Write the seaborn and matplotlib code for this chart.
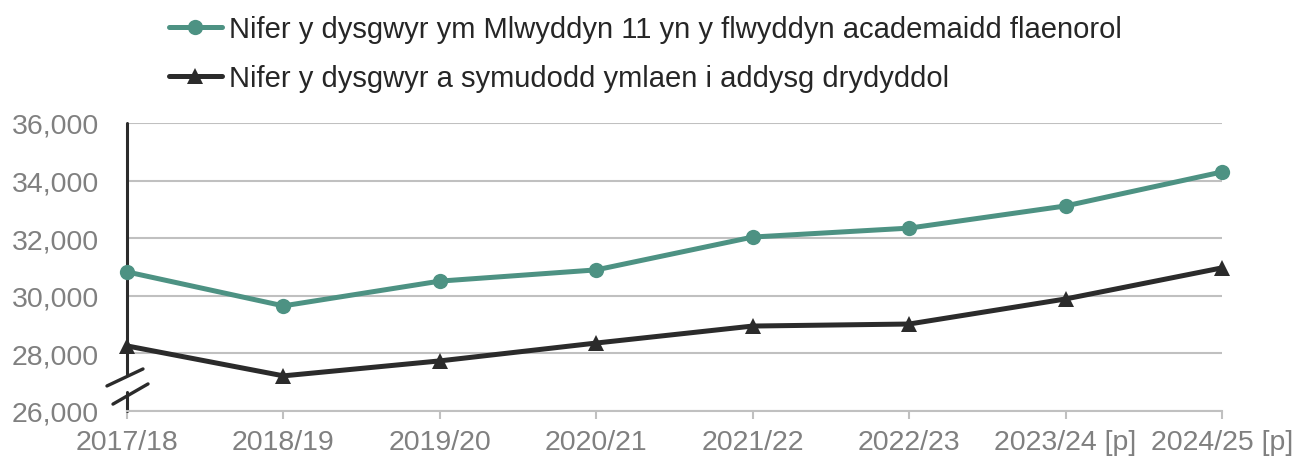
import matplotlib
matplotlib.use("Agg")
import matplotlib.pyplot as plt
import matplotlib.ticker as mticker
from matplotlib.lines import Line2D
import pandas as pd
import seaborn as sns

# chart data
years = ["2017/18", "2018/19", "2019/20", "2020/21", "2021/22", "2022/23",
         "2023/24 [p]", "2024/25 [p]"]
year11 = [30830, 29650, 30510, 30900, 32040, 32350, 33120, 34300]
progressed = [28260, 27220, 27740, 28360, 28950, 29020, 29890, 30970]
label_year11 = "Nifer y dysgwyr ym Mlwyddyn 11 yn y flwyddyn academaidd flaenorol"
label_progressed = "Nifer y dysgwyr a symudodd ymlaen i addysg drydyddol"
y_ticks = [26000, 28000, 30000, 32000, 34000, 36000]

GREEN = "#4D9283"
DARK = "#2B2B2B"
GREY_TXT = "#808080"
GREY_LINE = "#C0C0C0"

df = pd.DataFrame({
    "year": years * 2,
    "value": year11 + progressed,
    "series": [label_year11] * len(years) + [label_progressed] * len(years),
})

sns.set_theme(style="white")
plt.rcParams["font.family"] = ["Liberation Sans", "DejaVu Sans"]

fig = plt.figure(figsize=(12.98, 4.64), dpi=100)
ax = fig.add_axes([127 / 1298, 52 / 464, 1095 / 1298, 288 / 464])

sns.lineplot(data=df, x="year", y="value", hue="series", style="series",
             hue_order=[label_year11, label_progressed],
             palette=[GREEN, DARK], markers=["o", "^"], dashes=False,
             sort=False, linewidth=3.6, markersize=11, markeredgewidth=0,
             legend=False, ax=ax, zorder=3, clip_on=False)

ax.set_xlim(0, len(years) - 1)
ax.set_ylim(y_ticks[0], y_ticks[-1])
ax.set_yticks(y_ticks)
ax.yaxis.set_major_formatter(mticker.FuncFormatter(lambda v, p: f"{int(v):,}"))
ax.set_xlabel("")
ax.set_ylabel("")
ax.grid(axis="y", color=GREY_LINE, linewidth=1.5)
ax.grid(axis="x", visible=False)

for s in ["top", "right", "left"]:
    ax.spines[s].set_visible(False)
ax.spines["bottom"].set_color(GREY_LINE)
ax.spines["bottom"].set_linewidth(1.5)

ax.tick_params(axis="x", colors=GREY_TXT, labelsize=20.5, length=6,
               width=1.5, color=GREY_LINE, pad=7, bottom=True)
ax.tick_params(axis="y", colors=GREY_TXT, labelsize=20.5, length=0, pad=20)

# broken y axis: two spine pieces plus the slanted break marks
tr = ax.transAxes
ax.add_line(Line2D([0, 0], [1, 0.128], transform=tr, color=DARK, lw=2.2, clip_on=False))
ax.add_line(Line2D([0, 0], [0.066, 0], transform=tr, color=DARK, lw=2.2, clip_on=False))
ax.add_line(Line2D([-0.0183, 0.0146], [0.087, 0.146], transform=tr, color=DARK, lw=2.4, clip_on=False))
ax.add_line(Line2D([-0.0128, 0.0192], [0.024, 0.094], transform=tr, color=DARK, lw=2.4, clip_on=False))

handles = [
    Line2D([], [], color=GREEN, marker="o", lw=3.6, markersize=11, markeredgewidth=0),
    Line2D([], [], color=DARK, marker="^", lw=3.6, markersize=11, markeredgewidth=0),
]
fig.legend(handles, [label_year11, label_progressed], loc="upper left",
           bbox_to_anchor=(153 / 1298, 1.0), frameon=False, fontsize=21,
           handlelength=1.8, handletextpad=0.25, labelspacing=0.72,
           borderpad=0.55, borderaxespad=0, labelcolor="#262626")

fig.savefig("out.png", dpi=100)
